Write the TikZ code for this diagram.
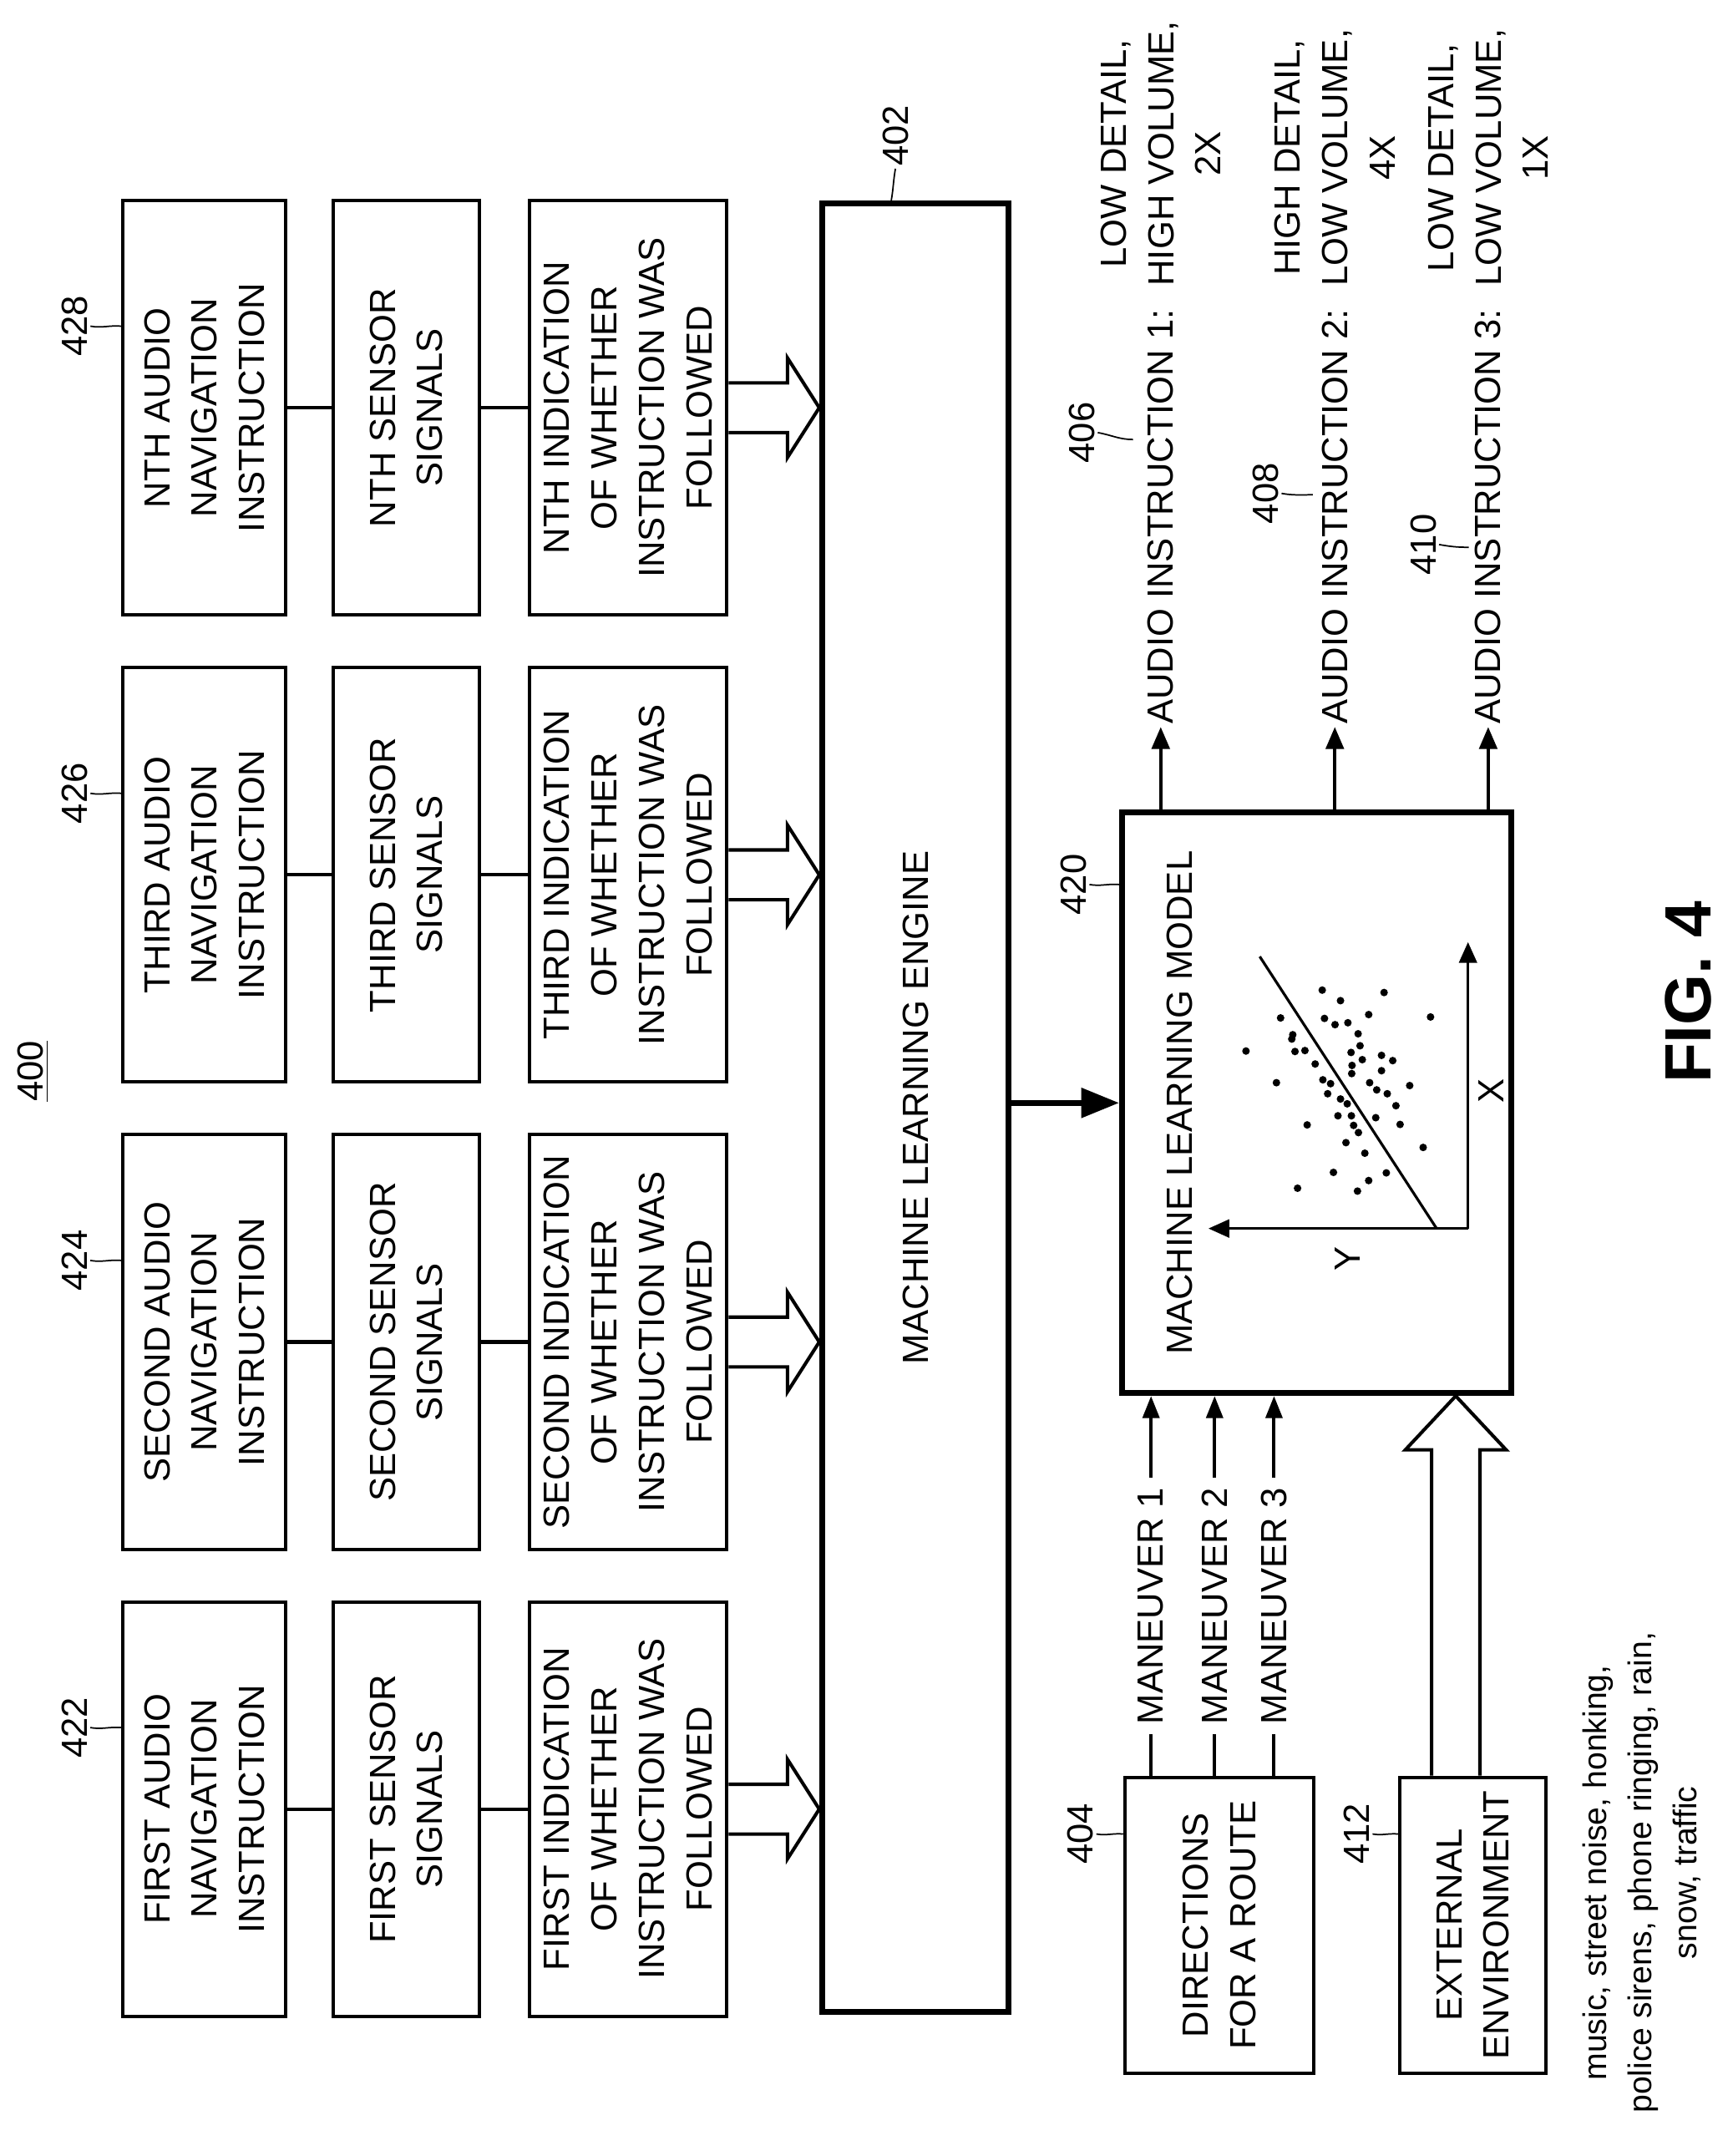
\documentclass[tikz,border=0pt]{standalone}
\usepackage{fontspec}
\setmainfont{Liberation Sans}
\usetikzlibrary{calc,arrows.meta}

\tikzset{
    block/.style = {
        rectangle,
        rotate=90,
        align=center,
        draw=black,
        line width=1.4pt,
        fill=white,
        inner sep=2pt
    },
    bigblock/.style = {
        block,
        line width=2.4pt
    },
    tag/.style = {
        rotate=90,
        inner sep=1pt
    },
    arrow/.style = {
        line width=1.4pt,
        -{Triangle[length=0.32cm,width=0.26cm]}
    },
    fat/.style = {
        line width=1.4pt,
        fill=white,
        line join=miter
    },
    leader/.style = {
        line width=0.6pt
    }
}

\newcommand\fatright[2]{%
  \draw[fat] ($(#1)+(0,-18)$) -- ($(#2)+(-23,-18)$) -- ($(#2)+(-23,-36)$) -- (#2)
    -- ($(#2)+(-23,36)$) -- ($(#2)+(-23,18)$) -- ($(#1)+(0,18)$);}

\begin{document}
\begin{tikzpicture}[x=0.02cm, y=-0.02cm, every node/.style={font=\fontsize{15}{19.5}\selectfont}]
\useasboundingbox (0,0) rectangle (1250,1560);

% left-hand columns of inputs
\foreach \c/\name/\num/\ord/\txt in {1309/a/422/FIRST/FIRST AUDIO, 971/b/424/SECOND/SECOND AUDIO,
    633/c/426/THIRD/THIRD AUDIO, 295/d/428/NTH/NTH AUDIO}{
  \node (nav\name) [block, minimum width=6cm, minimum height=2.36cm] at (148,\c) {\txt\\NAVIGATION\\INSTRUCTION};
  \node (sen\name) [block, minimum width=6cm, minimum height=2.12cm] at (294,\c) {\ord\ SENSOR\\SIGNALS};
  \node (ind\name) [block, minimum width=6cm, minimum height=2.86cm] at (454.5,\c) {\ord\ INDICATION\\OF WHETHER\\INSTRUCTION WAS\\FOLLOWED};
  \node (num\name) [tag] at (54,\c-59) {\num};
  \draw [line width=1.4pt] (nav\name.south) -- (sen\name.north);
  \draw [line width=1.4pt] (sen\name.south) -- (ind\name.north);
  \draw [leader] (num\name.south) to[out=-10,in=175] (nav\name.north |- num\name.south);
}

% engine
\node (mle) [bigblock, minimum width=26.18cm, minimum height=2.7cm] at (662.5,801.5) {MACHINE LEARNING ENGINE};
\node (num402) [tag] at (648,98) {402};
\draw [leader] (num402.west) to[out=-100,in=80] (mle.north east -| 645,0);
\node (fig) [tag] at (24,775) {\underline{400}};

\foreach \name in {a,b,c,d}{
  \fatright{ind\name.south}{mle.north |- ind\name.south}
}

% model
\node (model) [bigblock, minimum width=8.4cm, minimum height=5.64cm] at (953,798) {};
\node (mtitle) [tag] at (854,798) {MACHINE LEARNING MODEL};
\node (num420) [tag] at (777,640) {420};
\draw [leader] (num420.south) to[out=-10,in=175] (model.north |- num420.south);
\draw [line width=2.4pt, -{Triangle[length=0.55cm,width=0.42cm]}] (mle.south |- model.north) -- (model.north);

% scatter plot
\begin{scope}[shift={(785.3,574.1)}, x=0.004642cm, y=-0.006942cm]
\coordinate (org) at (1195,907);
\draw [line width=1pt, -{Triangle[length=0.3cm,width=0.26cm]}] (org) -- (385,907);
\draw [line width=1pt, -{Triangle[length=0.3cm,width=0.26cm]}] (org) -- (1195,310);
\draw [line width=1.1pt] (545,340) -- (1097,907);
\node (ylab) [tag] at (820,970) {Y};
\node (xlab) [tag] at (1268,620) {X};
\foreach \u/\v in {740/410,797/432,933/415,610/468,747/469,780/482,820/478,885/461,1078/466,
    648/503,645/512,852/501,502/537,655/538,686/536,830/540,858/526,865/555,925/546,960/557,
    718/564,833/567,832/584,925/578,597/603,742/597,766/605,888/603,1013/609,757/626,910/618,
    943/626,797/637,818/647,970/651,693/691,789/672,831/672,838/692,907/676,983/690,853/707,
    814/728,1055/738,873/750,775/790,940/791,663/823,885/807,850/829}
  \fill (\u,\v) circle[radius=0.055cm];
\end{scope}

% outputs
\foreach \k/\xx/\det/\vol/\fac in {1/840/LOW/HIGH/2X, 2/966/HIGH/LOW/4X, 3/1077/LOW/LOW/1X}{
  \node (out\k) [tag, anchor=west] at (\xx,526) {AUDIO INSTRUCTION \k:};
  \node (vol\k) [tag, anchor=west, align=center, xshift=0.25cm] at (out\k.east) {\det\ DETAIL,\\\vol\ VOLUME,\\\fac};
  \draw [arrow] (model.east -| out\k.west) -- (out\k.west);
}
\node (num406) [tag] at (783,313) {406};
\node (num408) [tag] at (916,357) {408};
\node (num410) [tag] at (1030,394) {410};
\draw [leader] (num406.south) to[out=-10,in=180] ($(out1.west)+(-20,-208)$);
\draw [leader] (num408.south) to[out=-10,in=180] ($(out2.west)+(-16,-168)$);
\draw [leader] (num410.south) to[out=-10,in=180] ($(out3.west)+(-14,-130)$);

% route and environment
\node (route) [block, minimum width=4.28cm, minimum height=2.74cm] at (882.5,1393) {DIRECTIONS\\FOR A ROUTE};
\node (num404) [tag] at (782,1327) {404};
\draw [leader] (num404.south) to[out=-10,in=175] (route.north |- num404.south);
\foreach \k/\xx in {1/833,2/879,3/922}{
  \node (man\k) [tag, inner sep=4pt] at (\xx,1162) {MANEUVER \k};
  \draw [line width=1.4pt] (route.east -| man\k.west) -- (man\k.west);
  \draw [line width=1.4pt, -{Triangle[length=0.32cm,width=0.24cm]}] (man\k.east) -- (model.west -| man\k.east);
}

\node (env) [block, minimum width=4.28cm, minimum height=2.12cm] at (1066,1393) {EXTERNAL\\ENVIRONMENT};
\node (num412) [tag] at (982,1327) {412};
\draw [leader] (num412.south) to[out=-10,in=175] (env.north |- num412.south);
\coordinate (tip) at (model.west -| 1053.5,0);
\draw [fat] (env.east -| 1036,0) -- ($(tip)+(-17.5,39)$) -- ($(tip)+(-36.5,39)$)
  -- (tip) -- ($(tip)+(36.5,39)$) -- ($(tip)+(17.5,39)$) -- (env.east -| 1071,0);

\node (noise) [tag, align=center, font=\fontsize{13.5}{18.5}\selectfont] at (1188,1355) {music, street noise, honking,\\police sirens, phone ringing, rain,\\snow, traffic};
\node (figlab) [tag, font=\fontsize{27}{32}\selectfont\bfseries] at (1222,718) {FIG. 4};

\end{tikzpicture}
\end{document}
